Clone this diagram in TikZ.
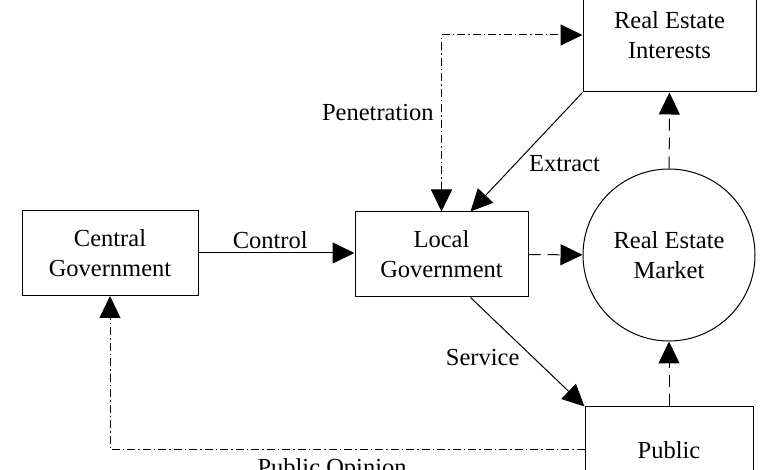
\documentclass[tikz,border=0pt]{standalone}
\usepackage{fontspec}
\setmainfont{Liberation Serif}
\usetikzlibrary{shapes.geometric,arrows.meta}
\tikzstyle{block} = [draw, line width=1pt, minimum width=173pt, minimum height=85pt, align=center, inner sep=0pt]
\tikzstyle{market} = [draw, circle, line width=1pt, minimum size=172pt, align=center, inner sep=0pt]
\tikzstyle{arrow} = [line width=1pt,-{Triangle[length=22pt,width=21pt]}]
\tikzstyle{dasharrow} = [arrow, dash pattern=on 12pt off 7pt]
\tikzstyle{dotarrow} = [arrow, dash pattern=on 8pt off 3pt on 1.5pt off 3pt]

\begin{document}
\begin{tikzpicture}[x=1pt, y=-1pt, font=\fontsize{24.5}{30}\selectfont]
    \useasboundingbox (0,0) rectangle (780,470);
    \clip (0,0) rectangle (780,470);

    % boxes
    \node[block, minimum width=176pt] (central) at (110,253) {Central\\Government};
    \node[block] (local) at (441.5,254.5) {Local\\Government};
    \node[block, minimum height=114pt] (interests) at (669.5,35) {Real Estate\\Interests};
    \node[market] (estate) at (669,255) {Real Estate\\Market};
    \node[block, minimum width=168pt, minimum height=86pt] (public) at (669,450) {Public};

    % links
    \draw[arrow] (central.east) -- (central.east -| local.west) node[pos=0.46, above] {Control};
    \draw[dotarrow, {Triangle[length=22pt,width=21pt]}-{Triangle[length=22pt,width=21pt]}] (local.north) |- (interests.west)
        node[pos=0.28, left=4pt] {Penetration};
    \draw[arrow] (interests.south west) -- (local.56) node[pos=0.6, right=10pt] {Extract};
    \draw[dasharrow] (local) -- (estate);
    \draw[dasharrow] (estate) -- (interests);
    \draw[dasharrow] (public) -- (estate);
    \draw[arrow] (local.-56) -- (public.north west) node[pos=0.55, left=10pt] {Service};
    \draw[dotarrow] (public.west) -| (central.south) node[pos=0.266, below=5pt] {Public Opinion};
\end{tikzpicture}
\end{document}
